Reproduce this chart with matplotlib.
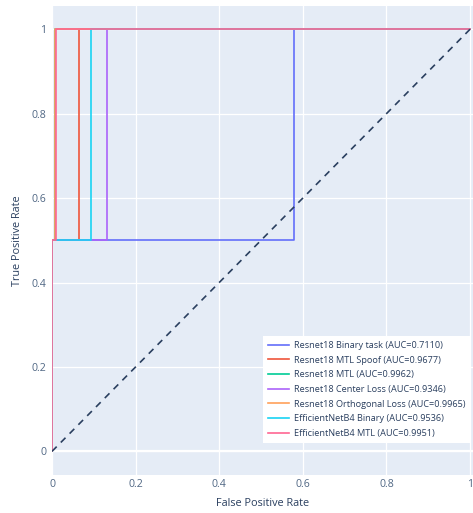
import matplotlib
matplotlib.use("Agg")
import matplotlib.pyplot as plt

plt.rcParams['font.family'] = ['Open Sans', 'DejaVu Sans']

# ROC curves (fpr, tpr pairs)
model_names = [
    "Resnet18 Binary task (AUC=0.7110)",
    "Resnet18 MTL Spoof (AUC=0.9677)",
    "Resnet18 MTL (AUC=0.9962)",
    "Resnet18 Center Loss (AUC=0.9346)",
    "Resnet18 Orthogonal Loss (AUC=0.9965)",
    "EfficientNetB4 Binary (AUC=0.9536)",
    "EfficientNetB4 MTL (AUC=0.9951)",
]
fpr_values = [
    [0, 0, 0.578, 0.578, 1],
    [0, 0, 0.0646, 0.0646, 1],
    [0, 0, 0.0076, 0.0076, 1],
    [0, 0, 0.1308, 0.1308, 1],
    [0, 0, 0.0070, 0.0070, 1],
    [0, 0, 0.0928, 0.0928, 1],
    [0, 0, 0.0098, 0.0098, 1],
]
tpr_values = [
    [0, 0.5, 0.5, 1, 1],
    [0, 0.5, 0.5, 1, 1],
    [0, 0.5, 0.5, 1, 1],
    [0, 0.5, 0.5, 1, 1],
    [0, 0.5, 0.5, 1, 1],
    [0, 0.5, 0.5, 1, 1],
    [0, 0.5, 0.5, 1, 1],
]
colors = ["#636efa", "#EF553B", "#00cc96", "#ab63fa", "#FFA15A", "#19d3f3", "#FF6692"]

x_ticks = [0, 0.2, 0.4, 0.6, 0.8, 1]
y_ticks = [0, 0.2, 0.4, 0.6, 0.8, 1]
tick_labels = ["0", "0.2", "0.4", "0.6", "0.8", "1"]

fig = plt.figure(figsize=(4.73, 5.13), dpi=100)
ax = fig.add_axes([52 / 473, 38 / 513, 421 / 473, 469 / 513])
ax.set_facecolor("#E5ECF6")

for fpr, tpr, name, c in zip(fpr_values, tpr_values, model_names, colors):
    ax.plot(fpr, tpr, color=c, lw=1.2, label=name, zorder=3)

# chance diagonal
ax.plot([0, 1], [0, 1], color="#2a3f5f", lw=1.2, ls=(0, (4, 3.5)), zorder=4)

ax.set_xlim(0, 1.007)
ax.set_ylim(-0.056, 1.055)
ax.set_xticks(x_ticks)
ax.set_xticklabels(tick_labels)
ax.set_yticks(y_ticks)
ax.set_yticklabels(tick_labels)
ax.grid(True, color="white", lw=0.9, zorder=0)
ax.axhline(0, color="white", lw=1.6, zorder=1)
ax.set_axisbelow(True)
for s in ax.spines.values():
    s.set_visible(False)
ax.tick_params(length=0, labelsize=7.6, labelcolor="#506784")
ax.tick_params(axis="x", pad=3)
ax.tick_params(axis="y", pad=4)

ax.set_xlabel("False Positive Rate", fontsize=7.8, color="#2a3f5f", labelpad=6)
ax.set_ylabel("True Positive Rate", fontsize=7.8, color="#2a3f5f", labelpad=6)

leg = ax.legend(loc="lower right", bbox_to_anchor=(0.993, 0.068), fontsize=6.6,
                frameon=True, fancybox=False, framealpha=1, edgecolor="white",
                handlelength=2.3, handletextpad=0.5, borderpad=0.55,
                labelspacing=0.62, borderaxespad=0)
leg.get_frame().set_linewidth(0)
for t in leg.get_texts():
    t.set_color("#2a3f5f")

fig.savefig("out.png", dpi=100)
